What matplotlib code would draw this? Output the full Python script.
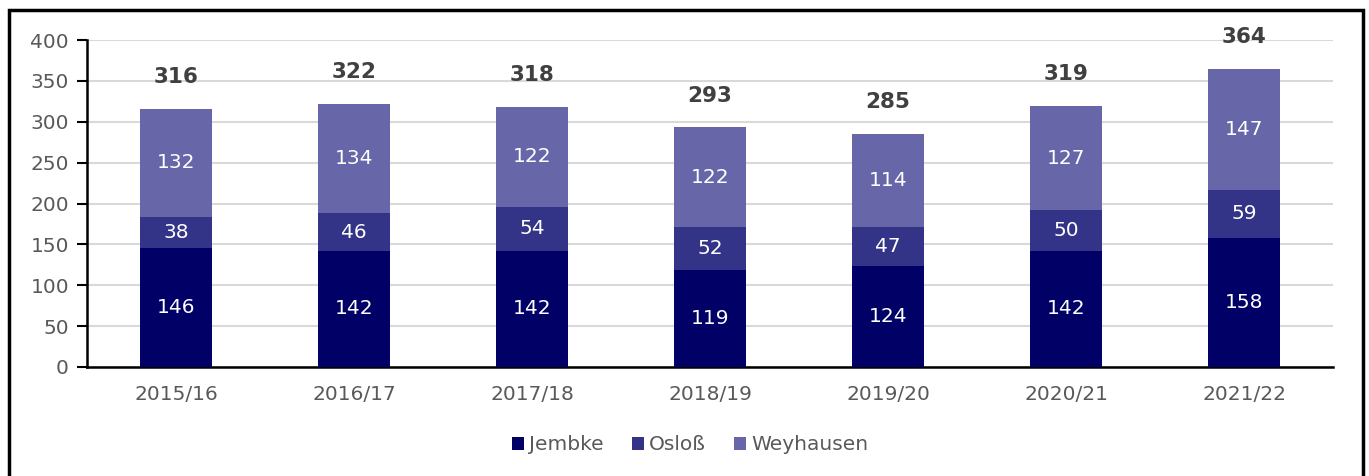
import matplotlib
matplotlib.use("Agg")
import matplotlib.pyplot as plt
from matplotlib.patches import Rectangle
import numpy as np

categories = ["2015/16", "2016/17", "2017/18", "2018/19", "2019/20", "2020/21", "2021/22"]
jembke = [146, 142, 142, 119, 124, 142, 158]
osloss = [38, 46, 54, 52, 47, 50, 59]
weyhausen = [132, 134, 122, 122, 114, 127, 147]
totals = [316, 322, 318, 293, 285, 319, 364]
series_names = ["Jembke", "Osloß", "Weyhausen"]
colors = ["#000066", "#333388", "#6666A8"]

plt.rcParams['font.family'] = ['DejaVu Sans']
fig = plt.figure(figsize=(13.69, 4.76), dpi=100)
ax = fig.add_axes([87/1369, 1 - 367/476, (1333 - 87)/1369, (367 - 40)/476])

fs = 14.5
x = np.arange(len(categories))
w = 0.405
bottom = np.zeros(len(categories))
for vals, name, c in zip([jembke, osloss, weyhausen], series_names, colors):
    vals = np.array(vals)
    ax.bar(x, vals, w, bottom=bottom, color=c, label=name, zorder=3)
    for xi, b, v in zip(x, bottom, vals):
        ax.text(xi, b + v / 2, str(v), ha='center', va='center', color='white', fontsize=fs, zorder=4)
    bottom += vals

for xi, t in zip(x, totals):
    ax.annotate(str(t), (xi, t), xytext=(0, 23), textcoords='offset points', ha='center', va='center',
                fontsize=15.5, fontweight='bold', color='#404040')

ax.set_xlim(-0.5, len(categories) - 0.5)
ax.set_ylim(0, 400)
ax.set_yticks(range(0, 401, 50))
ax.set_xticks(x)
ax.set_xticklabels(categories)
ax.tick_params(axis='y', labelsize=fs, labelcolor='#595959', length=7, width=1.5, color='black', pad=6)
ax.tick_params(axis='x', labelsize=fs, labelcolor='#595959', length=0, pad=13)
ax.grid(axis='y', color='#d9d9d9', linewidth=1.5, zorder=0)
for s in ['top', 'right']:
    ax.spines[s].set_visible(False)
ax.spines['left'].set_linewidth(1.8)
ax.spines['bottom'].set_linewidth(1.8)

leg = fig.legend(loc='center', bbox_to_anchor=(690/1369, 1 - 445/476), ncol=3, frameon=False,
                 fontsize=fs, handlelength=0.6, handleheight=0.6, handletextpad=0.25, columnspacing=1.4)
for t in leg.get_texts():
    t.set_color('#595959')

fig.patches.append(Rectangle((9/1369, -0.05), (1363 - 9)/1369, 1.05 - 10/476, transform=fig.transFigure,
                             fill=False, edgecolor='black', linewidth=2.5))

fig.savefig("out.png", dpi=100)
